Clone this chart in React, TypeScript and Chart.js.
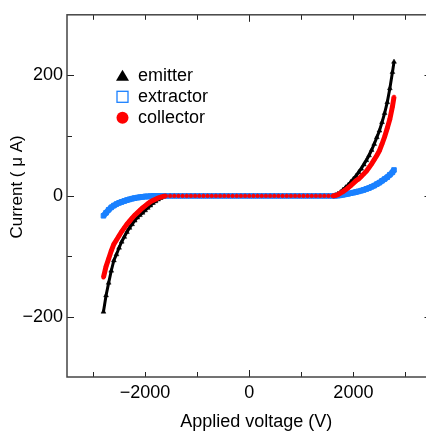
import React, { useEffect, useRef } from 'react';
import { Chart, registerables } from 'chart.js';

Chart.register(...registerables);

// Applied voltage (V)
const voltage = [
  -2800, -2750, -2700, -2650, -2600, -2550, -2500, -2450, -2400, -2350, -2300, -2250, -2200,
  -2150, -2100, -2050, -2000, -1950, -1900, -1850, -1800, -1750, -1700, -1650, -1600,
  -1520, -1440, -1360, -1280, -1200, -1120, -1040, -960, -880, -800, -720, -640, -560, -480,
  -400, -320, -240, -160, -80, 0, 80, 160, 240, 320, 400, 480, 560, 640, 720, 800, 880, 960,
  1040, 1120, 1200, 1280, 1360, 1440, 1520,
  1600, 1650, 1700, 1750, 1800, 1850, 1900, 1950, 2000, 2050, 2100, 2150, 2200, 2250, 2300,
  2350, 2400, 2450, 2500, 2550, 2600, 2650, 2700, 2750, 2780,
];

// Current (µA)
const emitter = [
  -192, -165, -144, -124, -107, -97, -86, -76, -68, -60, -53, -47, -41,
  -36, -32, -28, -24, -20, -16, -12, -9, -6, -3.5, -1.5, 0,
  0, 0, 0, 0, 0, 0, 0, 0, 0, 0, 0, 0, 0, 0,
  0, 0, 0, 0, 0, 0, 0, 0, 0, 0, 0, 0, 0, 0, 0, 0, 0, 0,
  0, 0, 0, 0, 0, 0, 0,
  0, 1, 3, 6, 10, 14, 18, 23, 28, 33, 39, 45, 52, 59, 67,
  76, 86, 97, 108, 122, 137, 155, 178, 205, 222,
];

const extractor = [
  -33, -28, -23, -19, -16, -13.5, -11.5, -10, -8.5, -7, -5.8, -4.6, -3.6,
  -2.8, -2.2, -1.6, -1.1, -0.8, -0.5, -0.3, -0.2, -0.1, 0, 0, 0,
  0, 0, 0, 0, 0, 0, 0, 0, 0, 0, 0, 0, 0, 0,
  0, 0, 0, 0, 0, 0, 0, 0, 0, 0, 0, 0, 0, 0, 0, 0, 0, 0,
  0, 0, 0, 0, 0, 0, 0,
  0, 0.3, 0.7, 1.2, 2, 2.8, 3.6, 4.5, 5.5, 6.5, 7.5, 8.7, 10, 11.5, 13,
  15, 17, 19.5, 22, 25, 28, 31, 35, 39, 43,
];

const collector = [
  -135, -117, -104, -91, -80, -73, -66, -59, -53, -47, -42, -37, -32,
  -28, -24, -20, -16.5, -13, -10, -7.5, -5.5, -3.5, -2, -0.8, 0,
  0, 0, 0, 0, 0, 0, 0, 0, 0, 0, 0, 0, 0, 0,
  0, 0, 0, 0, 0, 0, 0, 0, 0, 0, 0, 0, 0, 0, 0, 0, 0, 0,
  0, 0, 0, 0, 0, 0, 0,
  0, 0.5, 2, 4.5, 7, 10, 13.5, 17, 21, 25, 28, 32, 36.5, 41, 47,
  53, 60, 67, 75, 86, 98, 112, 127, 148, 164,
];

const xTickValues = [-2000, 0, 2000];
const xMinorTicks = [-3000, -1000, 1000, 3000];
const yTickValues = [-200, 0, 200];
const yMinorTicks = [-100, 100];

const xTitle = 'Applied voltage (V)';
const yTitle = 'Current ( \u03BC A)';

const FONT = '"Liberation Sans", Arial, Helvetica, sans-serif';
const BLUE = '#1a80ff';

const fmt = (v: number) => (v < 0 ? '\u2212' + Math.abs(v) : String(v));

const framePlugin = {
  id: 'framePlugin',
  afterDraw(chart: any) {
    const { ctx, chartArea: a, scales } = chart;
    const xs = scales.x;
    const ys = scales.y;
    const line = (x1: number, y1: number, x2: number, y2: number) => {
      ctx.beginPath();
      ctx.moveTo(x1, y1);
      ctx.lineTo(x2, y2);
      ctx.stroke();
    };
    ctx.save();
    ctx.strokeStyle = '#222';
    ctx.lineWidth = 1;
    for (const v of [...xTickValues, ...xMinorTicks]) {
      const px = Math.round(xs.getPixelForValue(v)) + 0.5;
      const len = v === 0 ? 7 : 5;
      line(px, a.bottom, px, a.bottom - len);
      line(px, a.top, px, a.top + len);
    }
    for (const v of [...yTickValues, ...yMinorTicks]) {
      const py = Math.round(ys.getPixelForValue(v)) + 0.5;
      const len = yTickValues.includes(v) ? 7 : 5;
      line(a.left, py, a.left + len, py);
      line(a.right, py, a.right - len, py);
    }
    ctx.strokeStyle = '#444';
    ctx.lineWidth = 1.5;
    ctx.strokeRect(a.left, a.top, a.right - a.left, a.bottom - a.top);

    // axis titles
    ctx.fillStyle = '#000';
    ctx.font = `18px ${FONT}`;
    ctx.textAlign = 'center';
    ctx.textBaseline = 'middle';
    ctx.fillText(xTitle, (a.left + a.right) / 2 + 7, a.bottom + 45);
    ctx.save();
    ctx.translate(17, (a.top + a.bottom) / 2 - 9);
    ctx.rotate(-Math.PI / 2);
    ctx.font = `17px ${FONT}`;
    ctx.fillText(yTitle, 0, 0);
    ctx.restore();

    // legend
    const ds = chart.data.datasets;
    const mx = a.left + 55.5;
    const tx = a.left + 71;
    ctx.font = `18px ${FONT}`;
    ctx.textAlign = 'left';
    ds.forEach((d: any, i: number) => {
      const cy = a.top + 61 + i * 21;
      if (d.pointStyle === 'triangle') {
        ctx.fillStyle = d.backgroundColor;
        ctx.beginPath();
        ctx.moveTo(mx, cy - 6);
        ctx.lineTo(mx - 6.5, cy + 5);
        ctx.lineTo(mx + 6.5, cy + 5);
        ctx.closePath();
        ctx.fill();
      } else if (d.pointStyle === 'rect') {
        ctx.strokeStyle = d.backgroundColor;
        ctx.lineWidth = 1.3;
        ctx.strokeRect(mx - 5.5, cy - 5.5, 11, 11);
      } else {
        ctx.fillStyle = d.backgroundColor;
        ctx.beginPath();
        ctx.arc(mx, cy, 6, 0, Math.PI * 2);
        ctx.fill();
      }
      ctx.fillStyle = '#000';
      ctx.fillText(d.label, tx, cy);
    });
    ctx.restore();
  },
};

// hide the connecting band where a series sits flat on zero (only the dots show there)
const flatHidden = (arr: number[]) => (c: any) =>
  arr[c.p0DataIndex] === 0 && arr[c.p1DataIndex] === 0 ? 'rgba(0,0,0,0)' : undefined;

const flatWidth = (arr: number[], curve: number, flat: number) => (c: any) =>
  arr[c.p0DataIndex] === 0 && arr[c.p1DataIndex] === 0 ? flat : curve;

export default function App() {
  const ref = useRef<HTMLCanvasElement | null>(null);

  useEffect(() => {
    if (!ref.current) return;
    const pts = (arr: number[]) => voltage.map((v, i) => ({ x: v, y: arr[i] }));
    const chart = new Chart(ref.current, {
      type: 'scatter',
      data: {
        datasets: [
          {
            label: 'emitter',
            data: pts(emitter),
            showLine: true,
            borderWidth: 3,
            tension: 0,
            segment: { borderColor: flatHidden(emitter) },
            pointStyle: 'triangle',
            pointRadius: 2.8,
            pointBorderWidth: 0.5,
            backgroundColor: '#000',
            borderColor: '#000',
            order: 2,
          },
          {
            label: 'extractor',
            data: pts(extractor),
            showLine: true,
            borderWidth: 5.5,
            tension: 0,
            segment: { borderWidth: flatWidth(extractor, 6, 4.5) },
            pointStyle: 'rect',
            pointRadius: 3.2,
            pointBorderWidth: 1,
            backgroundColor: BLUE,
            borderColor: BLUE,
            order: 1,
          },
          {
            label: 'collector',
            data: pts(collector),
            showLine: true,
            borderWidth: 5,
            tension: 0,
            segment: { borderColor: flatHidden(collector) },
            pointStyle: 'circle',
            pointRadius: 1.9,
            pointBorderWidth: 0.5,
            backgroundColor: '#ff0000',
            borderColor: '#ff0000',
            order: 0,
          },
        ] as any,
      },
      options: {
        responsive: false,
        animation: false,
        devicePixelRatio: 1,
        events: [],
        layout: { padding: { left: 0, right: 8.5, top: 13, bottom: 0 } },
        plugins: { legend: { display: false }, tooltip: { enabled: false } },
        font: { family: FONT, size: 18 },
        scales: {
          x: {
            type: 'linear',
            min: -3500,
            max: 3500,
            grid: { display: false, drawTicks: false },
            border: { display: false },
            ticks: {
              padding: 5,
              color: '#000',
              font: { family: FONT, size: 18 },
              maxRotation: 0,
              callback: (v: any) => fmt(Number(v)),
            },
            afterBuildTicks: (s: any) => {
              s.ticks = xTickValues.map((v) => ({ value: v }));
            },
            afterFit: (s: any) => {
              s.height = 57;
            },
          },
          y: {
            type: 'linear',
            min: -300,
            max: 300,
            grid: { display: false, drawTicks: false },
            border: { display: false },
            ticks: {
              padding: 4,
              color: '#000',
              font: { family: FONT, size: 18 },
              callback: (v: any) => fmt(Number(v)),
            },
            afterBuildTicks: (s: any) => {
              s.ticks = yTickValues.map((v) => ({ value: v }));
            },
            afterFit: (s: any) => {
              s.width = 67;
            },
          },
        },
      } as any,
      plugins: [framePlugin],
    });
    return () => chart.destroy();
  }, []);

  return (
    <div
      style={{
        position: 'fixed',
        left: 0,
        top: 0,
        width: 426,
        height: 434,
        overflow: 'hidden',
        background: '#fff',
      }}
    >
      <canvas ref={ref} width={440} height={434} style={{ display: 'block' }} />
    </div>
  );
}
